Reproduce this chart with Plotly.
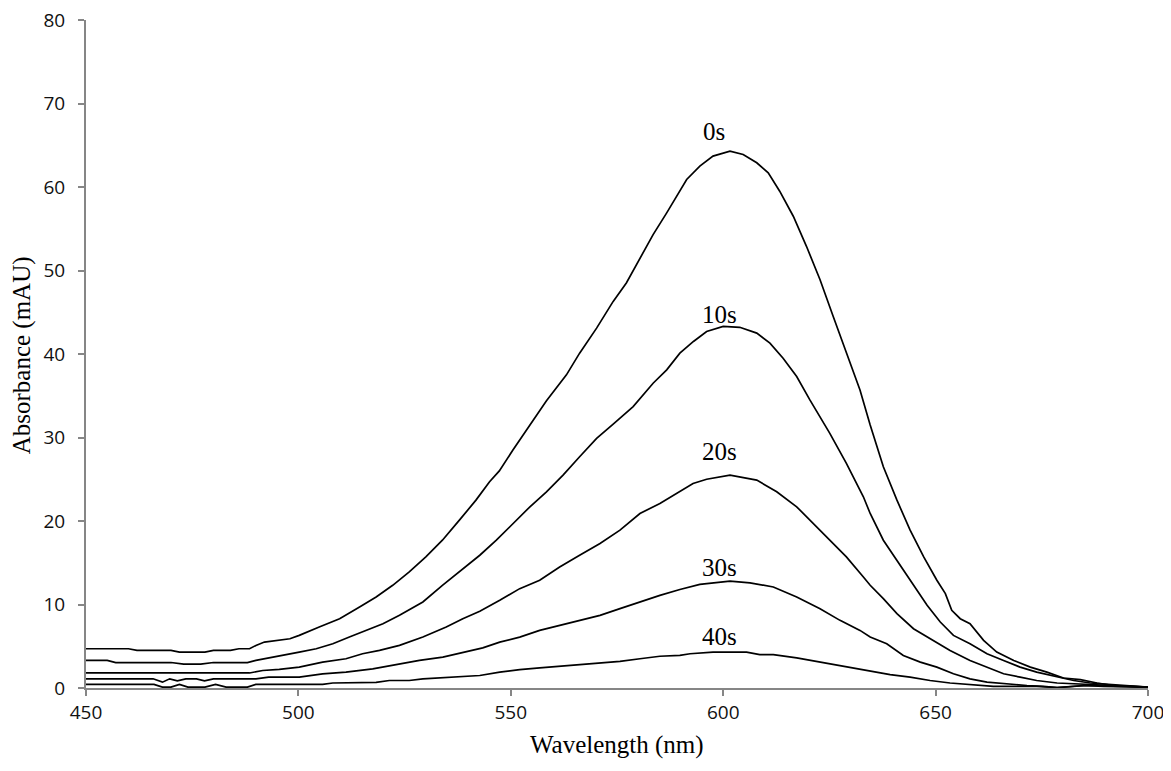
import plotly.graph_objects as go

# ---- data ----
wl_0s = [450, 460, 462, 470, 472, 478, 480, 484, 486, 488.5, 490, 492, 498, 500.2, 504.9, 509.7,
         514.4, 518.3, 522.2, 526.1, 530, 533.9, 537.9, 541.8, 545, 547.3, 550.5, 553.7, 558.4,
         563.1, 566.2, 570.2, 574.1, 577.2, 580.4, 583.5, 586.7, 589.8, 591.4, 594.5, 597.6,
         601.6, 604.7, 607.9, 610.6, 613.3, 616.5, 619.6, 622.8, 625.9, 629, 632.2, 634.6,
         637.7, 640.9, 644, 647.2, 650.3, 652.3, 653.8, 655.8, 658.1, 661.3, 664.4, 668.4,
         672.3, 676.2, 680.1, 684.1, 688, 691.9, 695.8, 700]
abs_0s = [4.7, 4.7, 4.5, 4.5, 4.3, 4.3, 4.5, 4.5, 4.7, 4.7, 5.1, 5.5, 5.9, 6.3, 7.3, 8.3,
          9.7, 10.9, 12.3, 13.9, 15.7, 17.7, 20.1, 22.5, 24.7, 26.0, 28.5, 30.9, 34.4,
          37.5, 40.1, 43.1, 46.3, 48.5, 51.5, 54.3, 56.9, 59.5, 60.9, 62.5, 63.7,
          64.3, 63.9, 62.9, 61.7, 59.5, 56.5, 52.9, 48.9, 44.5, 40.1, 35.7, 31.5,
          26.5, 22.5, 18.9, 15.7, 12.9, 11.3, 9.3, 8.3, 7.7, 5.7, 4.3, 3.3,
          2.5, 1.9, 1.2, 1.0, 0.6, 0.3, 0.2, 0.1]

wl_10s = [450, 455, 457, 470, 473, 477, 480, 488, 490, 495.5, 500.2, 504.2, 508.1, 512, 515.9,
          519.9, 523.8, 529.3, 533.9, 538.7, 542.7, 546.6, 550.5, 554.5, 558.4, 562.3, 566.2,
          570.2, 574.1, 578.8, 583.5, 586.7, 589.8, 593, 596.1, 600, 603.9, 607.9, 611, 614.1,
          617.3, 620.4, 625.1, 629, 633, 634.6, 637.7, 640.9, 644, 648, 651.1, 654.2, 658.1,
          662.1, 666, 669.9, 673.8, 678.6, 682.5, 686.4, 691.1, 695.8, 700]
abs_10s = [3.3, 3.3, 3.05, 3.05, 2.85, 2.85, 3.05, 3.05, 3.3, 3.8, 4.3, 4.7, 5.3, 6.1, 6.9,
           7.7, 8.7, 10.3, 12.3, 14.3, 15.9, 17.7, 19.7, 21.7, 23.5, 25.5, 27.7,
           29.9, 31.6, 33.7, 36.5, 38.1, 40.1, 41.5, 42.7, 43.3, 43.2, 42.5, 41.3, 39.5,
           37.3, 34.5, 30.5, 26.9, 22.9, 20.9, 17.7, 15.3, 12.9, 9.9, 7.9, 6.3, 5.3,
           4.1, 3.3, 2.5, 1.9, 1.3, 0.9, 0.6, 0.44, 0.24, 0.1]

wl_20s = [450, 470, 488.5, 491.6, 495.5, 500.2, 505.7, 511.2, 515.1, 519.1, 523.8, 529.3, 534.8,
          538.7, 542.7, 547.4, 552.1, 556.8, 561.5, 566.2, 571, 575.7, 580.4, 585.1, 589.8,
          592.9, 596.1, 601.6, 607.9, 612.6, 617.3, 621.2, 625.1, 629, 633, 634.6, 637.7,
          640.9, 644.8, 648.7, 653.4, 658.1, 662.1, 666, 669.9, 673.8, 678.6, 683.3, 689.5,
          695.8, 700]
abs_20s = [1.8, 1.8, 1.8, 2.1, 2.24, 2.5, 3.1, 3.5, 4.1, 4.5, 5.1, 6.1, 7.3,
           8.3, 9.2, 10.5, 11.9, 12.9, 14.5, 15.9, 17.3, 18.9, 20.9, 22.1, 23.5,
           24.5, 25.0, 25.5, 24.9, 23.5, 21.7, 19.7, 17.7, 15.7, 13.3, 12.3, 10.7,
           8.9, 7.1, 5.9, 4.5, 3.3, 2.5, 1.7, 1.3, 0.9, 0.6, 0.5, 0.3,
           0.2, 0.1]

wl_30s = [450, 465.8, 468, 469.7, 471.5, 473.5, 476, 477.9, 480, 490, 493, 500.2, 505.7, 511.2,
          517.5, 523, 528.5, 534, 539.5, 543.4, 547.4, 552.1, 556.8, 561.5, 566.2, 571, 575.7,
          580.4, 585.1, 589.8, 594.5, 601.6, 606.3, 611.8, 617.3, 622.8, 627.5, 632.2, 634.6,
          638.5, 642.4, 646.4, 650.3, 654.2, 658.1, 662.1, 666, 671.5, 675.4, 678.6, 684.8,
          689.5, 700]
abs_30s = [1.1, 1.1, 0.7, 1.1, 0.85, 1.1, 1.1, 0.85, 1.1, 1.1, 1.3, 1.3, 1.7, 1.9,
           2.3, 2.8, 3.3, 3.7, 4.3, 4.8, 5.5, 6.1, 6.9, 7.5, 8.1, 8.7, 9.5,
           10.3, 11.1, 11.8, 12.4, 12.8, 12.6, 12.1, 10.9, 9.5, 8.1, 6.9, 6.1,
           5.3, 3.9, 3.1, 2.5, 1.7, 1.1, 0.7, 0.5, 0.3, 0.2, 0.05, 0.3,
           0.2, 0.1]

wl_40s = [450, 466, 468, 470, 472, 474, 478, 480.5, 483, 488, 490, 505.7, 508.1, 518.3, 521.4,
          526.1, 529.3, 536.3, 542.7, 547.4, 552.1, 556.8, 561.5, 566.2, 571, 575.7, 580.4,
          585.1, 589.8, 592.2, 597.6, 605.5, 608.6, 611.8, 617.3, 622.8, 629, 634.6, 639.3,
          644, 648.7, 653.4, 658.1, 663.6, 673.8, 678.6, 685.6, 691.1, 700]
abs_40s = [0.44, 0.44, 0.1, 0.1, 0.44, 0.1, 0.1, 0.44, 0.1, 0.1, 0.44, 0.44, 0.6, 0.68, 0.9,
           0.9, 1.1, 1.3, 1.5, 1.9, 2.2, 2.4, 2.6, 2.8, 3.0, 3.2, 3.5,
           3.8, 3.9, 4.1, 4.3, 4.3, 4.0, 4.0, 3.6, 3.1, 2.5, 2.0, 1.6,
           1.3, 0.9, 0.6, 0.44, 0.2, 0.2, 0.05, 0.3, 0.2, 0.1]

series_names = ["0s", "10s", "20s", "30s", "40s"]
label_x = [597.8, 599.2, 599.2, 599.2, 599.2]
label_y = [66.7, 44.7, 28.3, 14.4, 6.2]

x_ticks = [450, 500, 550, 600, 650, 700]
y_ticks = [0, 10, 20, 30, 40, 50, 60, 70, 80]

x_title = "Wavelength (nm)"
y_title = "Absorbance (mAU)"

# ---- figure ----
fig = go.Figure()
all_wl = [wl_0s, wl_10s, wl_20s, wl_30s, wl_40s]
all_abs = [abs_0s, abs_10s, abs_20s, abs_30s, abs_40s]
for name, wl, ab in zip(series_names, all_wl, all_abs):
    fig.add_trace(go.Scatter(x=wl, y=ab, mode="lines", name=name,
                             line=dict(color="black", width=1.7), showlegend=False,
                             cliponaxis=False))

serif = "Liberation Serif, Times New Roman, serif"
for name, lx, ly in zip(series_names, label_x, label_y):
    fig.add_annotation(x=lx, y=ly, text=name, showarrow=False,
                       font=dict(family=serif, size=25, color="black"))

title_font = dict(family=serif, size=25, color="black")
fig.add_annotation(xref="paper", yref="paper", x=0.5, y=-0.0858, text=x_title,
                   showarrow=False, xanchor="center", yanchor="middle", font=title_font)
fig.add_annotation(xref="paper", yref="paper", x=-0.0603, y=0.498, text=y_title,
                   showarrow=False, xanchor="center", yanchor="middle", textangle=-90,
                   font=title_font)

axis_font = dict(family="Open Sans, sans-serif", size=19, color="#111111")

fig.update_layout(
    width=1155, height=755,
    margin=dict(l=78, r=15, t=12, b=75, autoexpand=False),
    paper_bgcolor="white", plot_bgcolor="white",
    xaxis=dict(range=[450, 700], tickvals=x_ticks, ticktext=[str(v) for v in x_ticks],
               showgrid=False, zeroline=False, showline=True, linecolor="#868686", linewidth=2,
               ticks="outside", ticklen=6, tickwidth=1.5, tickcolor="#868686",
               tickfont=axis_font, automargin=False, ticklabeloverflow="allow"),
    yaxis=dict(range=[0, 80], tickvals=y_ticks, ticktext=[str(v) for v in y_ticks],
               showgrid=False, zeroline=False, showline=True, linecolor="#868686", linewidth=2,
               ticks="outside", ticklen=6, tickwidth=1.5, tickcolor="#868686",
               tickfont=axis_font, automargin=False, ticklabelstandoff=9,
               ticklabeloverflow="allow"),
)

fig.write_html("out.html")
